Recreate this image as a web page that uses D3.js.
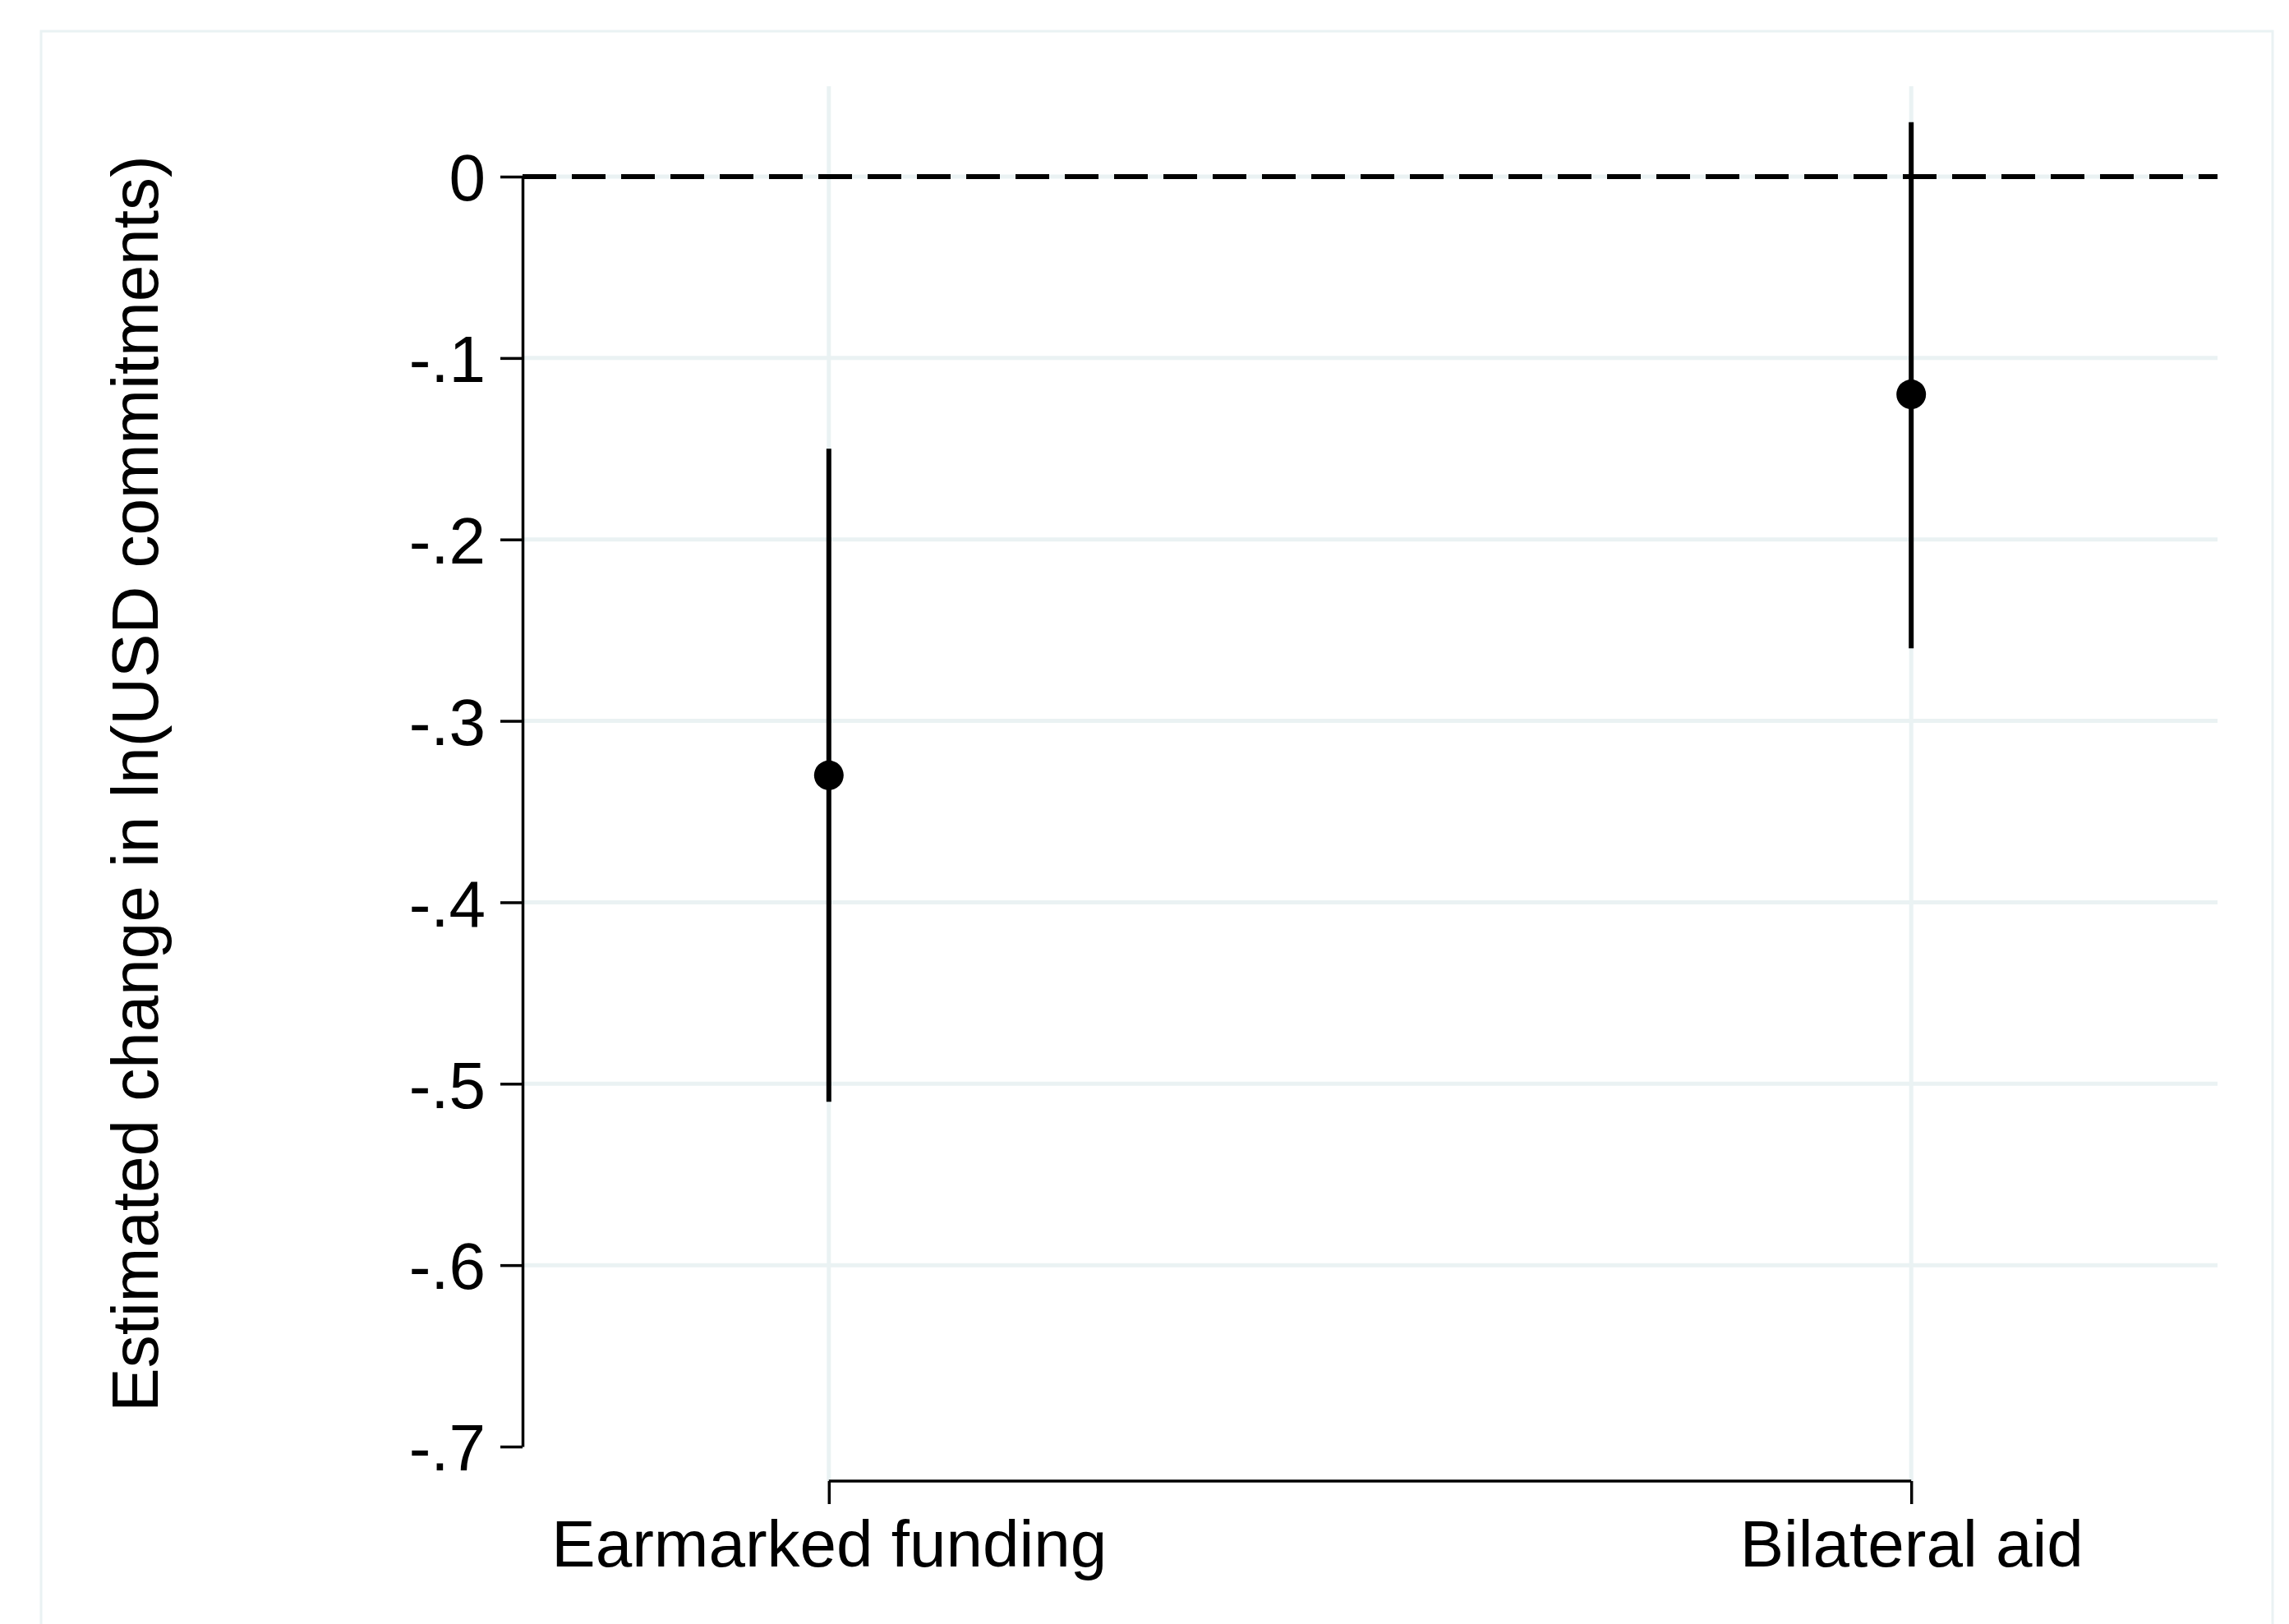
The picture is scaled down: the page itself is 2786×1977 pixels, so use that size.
<!DOCTYPE html>
<html>
<head>
<meta charset="utf-8">
<script src="https://cdn.jsdelivr.net/npm/d3@7"></script>
<style>
  html, body { margin: 0; padding: 0; background: #fff; }
  svg { display: block; }
  text { font-family: "Liberation Sans", Arial, Helvetica, sans-serif; fill: #000; }
</style>
</head>
<body>
<div id="chart"></div>
<script>
// coefficient estimates with 95% CI
const categories = ["Earmarked funding", "Bilateral aid"];
const estimates = [-0.33, -0.12];
const ciLower = [-0.51, -0.26];
const ciUpper = [-0.15, 0.03];
const yTicks = [0, -0.1, -0.2, -0.3, -0.4, -0.5, -0.6, -0.7];
const yTitle = "Estimated change in ln(USD commitments)";

const width = 2786, height = 1977;
const gridColor = "#eaf2f3";
const fontSize = 80;

// plot region
const plotLeft = 636, plotRight = 2699, yTopPx = 215, yBottomPx = 1761;
const plotTop = 105, xAxisY = 1803;

const svg = d3.select("#chart").append("svg")
  .attr("width", width)
  .attr("height", height);

// outer frame (runs off the bottom of the picture)
svg.append("rect")
  .attr("x", 50).attr("y", 38)
  .attr("width", 2716).attr("height", 2100)
  .attr("fill", "none")
  .attr("stroke", gridColor)
  .attr("stroke-width", 3);

const x = d3.scalePoint()
  .domain(categories)
  .range([plotLeft, plotRight])
  .padding(0.283);

const y = d3.scaleLinear()
  .domain([0, -0.7])
  .range([yTopPx, yBottomPx]);

// Stata style: "-.1", plain hyphen, no leading zero
const fmt = d => d === 0 ? "0" : (d < 0 ? "-" : "") + d3.format(".1f")(Math.abs(d)).replace(/^0\./, ".");

// horizontal gridlines (not at the bottom limit)
svg.append("g")
  .selectAll("line")
  .data(yTicks.filter(d => d > -0.7))
  .join("line")
  .attr("x1", plotLeft).attr("x2", plotRight)
  .attr("y1", d => y(d)).attr("y2", d => y(d))
  .attr("stroke", gridColor)
  .attr("stroke-width", 5);

// vertical gridlines at categories
svg.append("g")
  .selectAll("line")
  .data(categories)
  .join("line")
  .attr("x1", d => x(d)).attr("x2", d => x(d))
  .attr("y1", plotTop).attr("y2", xAxisY)
  .attr("stroke", gridColor)
  .attr("stroke-width", 5);

// reference line at zero
svg.append("line")
  .attr("x1", plotLeft).attr("x2", plotRight)
  .attr("y1", y(0)).attr("y2", y(0))
  .attr("stroke", "#000")
  .attr("stroke-width", 6)
  .attr("stroke-dasharray", "41,19");

// y axis
const yAxis = svg.append("g")
  .attr("transform", "translate(" + plotLeft + ",0)")
  .call(d3.axisLeft(y).tickValues(yTicks).tickFormat(fmt)
    .tickSize(27).tickSizeOuter(0).tickPadding(18));
yAxis.select(".domain").attr("stroke-width", 3.5);
yAxis.selectAll(".tick line").attr("stroke-width", 3.5);
yAxis.selectAll(".tick text")
  .attr("font-size", fontSize)
  .attr("dy", "0.36em")
  .style("font-family", "'Liberation Sans', Arial, Helvetica, sans-serif");

// x axis: line only spans first to last category
const xAxis = svg.append("g")
  .attr("transform", "translate(0," + xAxisY + ")")
  .call(d3.axisBottom(x).tickSize(28).tickSizeOuter(0).tickPadding(19));
xAxis.select(".domain").remove();
xAxis.append("line")
  .attr("x1", x(categories[0])).attr("x2", x(categories[categories.length - 1]))
  .attr("y1", 0).attr("y2", 0)
  .attr("stroke", "#000")
  .attr("stroke-width", 3.5);
xAxis.selectAll(".tick line").attr("stroke-width", 3.5);
xAxis.selectAll(".tick text")
  .attr("font-size", fontSize)
  .style("font-family", "'Liberation Sans', Arial, Helvetica, sans-serif");

// confidence intervals
svg.append("g")
  .selectAll("line")
  .data(categories)
  .join("line")
  .attr("x1", d => x(d)).attr("x2", d => x(d))
  .attr("y1", (d, i) => y(ciUpper[i]))
  .attr("y2", (d, i) => y(ciLower[i]))
  .attr("stroke", "#000")
  .attr("stroke-width", 6);

// point estimates
svg.append("g")
  .selectAll("circle")
  .data(categories)
  .join("circle")
  .attr("cx", d => x(d))
  .attr("cy", (d, i) => y(estimates[i]))
  .attr("r", 18)
  .attr("fill", "#000");

// y title
svg.append("text")
  .attr("transform", "translate(192," + ((plotTop + xAxisY) / 2) + ") rotate(-90)")
  .attr("text-anchor", "middle")
  .attr("font-size", fontSize)
  .text(yTitle);
</script>
</body>
</html>
